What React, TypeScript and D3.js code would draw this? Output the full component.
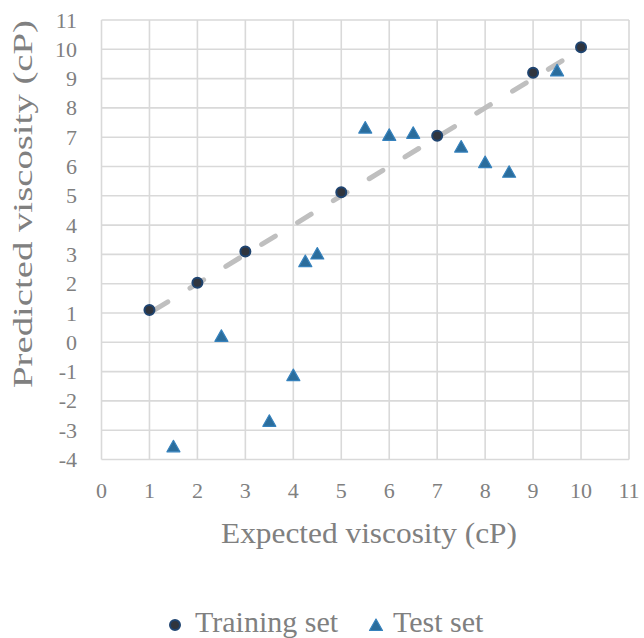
import React from "react";
import * as d3 from "d3";

const trainX = [1, 2, 3, 5, 7, 9, 10];
const trainY = [1.1, 2.03, 3.1, 5.12, 7.05, 9.2, 10.07];
const testX = [1.5, 2.5, 3.5, 4, 4.25, 4.5, 5.5, 6, 6.5, 7.5, 8, 8.5, 9.5];
const testY = [-3.55, 0.22, -2.68, -1.12, 2.77, 3.03, 7.33, 7.08, 7.15, 6.68, 6.15, 5.82, 9.28];
const trendX = [1, 10];
const trendY = [1, 10];
const xTicks = d3.range(0, 12);
const yTicks = d3.range(-4, 12);
const xTitle = "Expected viscosity (cP)";
const yTitle = "Predicted viscosity (cP)";
const legendLabels = ["Training set", "Test set"];

const W = 644;
const H = 638;
const TXT = "#808080";
const FONT = "'Liberation Serif', 'Times New Roman', serif";

export default function App() {
  const x = d3.scaleLinear().domain([0, 11]).range([101.5, 629]);
  const y = d3.scaleLinear().domain([-4, 11]).range([459.5, 20]);
  const line = d3
    .line<number>()
    .x((d) => x(trendX[d]))
    .y((d) => y(trendY[d]));

  const triPath = (cx: number, cy: number) =>
    `M${cx},${cy - 6}L${cx + 6.5},${cy + 5.5}L${cx - 6.5},${cy + 5.5}Z`;

  return (
    <svg
      width={W}
      height={H}
      style={{ position: "absolute", left: 0, top: 0, background: "#fff" }}
      fontFamily={FONT}
    >
      <rect width={W} height={H} fill="#fff" />
      <g stroke="#d9d9d9" strokeWidth={1.6}>
        {xTicks.map((t) => (
          <line key={"vx" + t} x1={x(t)} x2={x(t)} y1={y(11)} y2={y(-4)} />
        ))}
        {yTicks.map((t) => (
          <line key={"hy" + t} x1={x(0)} x2={x(11)} y1={y(t)} y2={y(t)} />
        ))}
      </g>
      <g fill={TXT} fontSize={22}>
        {xTicks.map((t) => (
          <text key={"xt" + t} x={x(t)} y={498} textAnchor="middle">
            {t}
          </text>
        ))}
        {yTicks.map((t) => (
          <text key={"yt" + t} x={77} y={y(t) + 7.5} textAnchor="end">
            {t}
          </text>
        ))}
      </g>
      <path
        d={line([0, 1]) || ""}
        fill="none"
        stroke="#bfbfbf"
        strokeWidth={5}
        strokeLinecap="round"
        strokeDasharray="16 26"
        strokeDashoffset={-5.5}
      />
      <g>
        {testX.map((v, i) => (
          <path
            key={"te" + i}
            d={triPath(x(v), y(testY[i]))}
            fill="#2b6d9c"
            stroke="#3682bd"
            strokeWidth={1.2}
            strokeLinejoin="round"
          />
        ))}
        {trainX.map((v, i) => (
          <circle
            key={"tr" + i}
            cx={x(v)}
            cy={y(trainY[i])}
            r={5}
            fill="#30353e"
            stroke="#1f4470"
            strokeWidth={2}
          />
        ))}
      </g>
      <text x={369} y={543} fill={TXT} fontSize={29} textAnchor="middle" textLength={296} lengthAdjust="spacingAndGlyphs">
        {xTitle}
      </text>
      <text
        transform="translate(32,204) rotate(-90)"
        fill={TXT}
        fontSize={27}
        textAnchor="middle"
        textLength={368}
        lengthAdjust="spacingAndGlyphs"
      >
        {yTitle}
      </text>
      <g>
        <circle cx={175} cy={625} r={5} fill="#30353e" stroke="#1f4470" strokeWidth={2} />
        <text x={195} y={632} fill={TXT} fontSize={30}>
          {legendLabels[0]}
        </text>
        <path d={triPath(376, 625)} fill="#2b6d9c" stroke="#3682bd" strokeWidth={1.2} strokeLinejoin="round" />
        <text x={393} y={632} fill={TXT} fontSize={30}>
          {legendLabels[1]}
        </text>
      </g>
    </svg>
  );
}
